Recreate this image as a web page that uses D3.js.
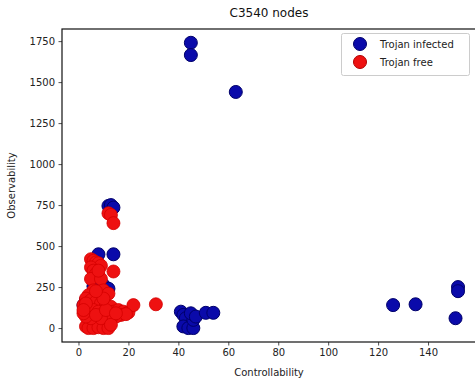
<!DOCTYPE html>
<html><head><meta charset="utf-8">
<script src="https://cdn.jsdelivr.net/npm/d3@7"></script>
<style>body{margin:0;background:#fff}svg{display:block}</style>
</head><body>
<script>
const title = "C3540 nodes";
const xLabel = "Controllability";
const yLabel = "Observability";
const seriesNames = ["Trojan infected", "Trojan free"];
const xTicks = [0, 20, 40, 60, 80, 100, 120, 140];
const yTicks = [0, 250, 500, 750, 1000, 1250, 1500, 1750];

const infectedX = [45,45,63,126,135,152,152,151, 41,42,43,42,44,46,46,45,47,51,54, 12,13,14, 8,14, 6,8,10,12, 3,2,4,5];
const infectedY = [1740,1665,1440,140,145,250,225,60, 100,80,60,10,0,0,50,90,70,93,93, 745,750,735, 450,450, 255,272,262,240, 170,140,160,200];

const freeX = [12,13,14,14, 5,6,7,8,9,5,6,7,8,5,9,8, 6,8,10,12,4,3,5,7,9,11,13,2,3,4,6,8,10,12,14,16,18,20,17,15,13,11,9,7,5,3,4,6,8,10,12,9,5,3,2,7,11,13,22,31,19,15,3,2,10,7];
const freeY = [700,690,640,345, 420,410,400,395,380,370,350,330,320,300,300,350, 230,220,230,210,200,180,170,160,150,140,130,140,120,100,110,100,90,80,100,110,100,95,80,70,60,50,40,30,20,10,0,0,5,0,0,60,60,70,90,80,110,20,140,145,85,90,150,110,180,225];

const W = 475, H = 381;
const m = {left: 62, top: 29, right: 477, bottom: 342};
const svg = d3.select("body").append("svg").attr("width", W).attr("height", H)
  .style("font-family", "DejaVu Sans, sans-serif");

const x = d3.scaleLinear().domain([-6.6, 159.6]).range([m.left, m.right]);
const y = d3.scaleLinear().domain([-85, 1824]).range([m.bottom, m.top]);

const xAxis = svg.append("g").attr("transform", `translate(0,${m.bottom})`)
  .call(d3.axisBottom(x).tickValues(xTicks).tickFormat(d3.format("d")).tickSize(3.5).tickPadding(3.5));
const yAxis = svg.append("g").attr("transform", `translate(${m.left},0)`)
  .call(d3.axisLeft(y).tickValues(yTicks).tickFormat(d3.format("d")).tickSize(3.5).tickPadding(3.5));
[xAxis, yAxis].forEach(g => {
  g.selectAll("text").attr("font-size", 10).attr("fill", "#222").style("font-family", "DejaVu Sans, sans-serif");
  g.select(".domain").remove();
  g.selectAll("line").attr("stroke", "#222").attr("stroke-width", 0.8);
});
// spines
svg.append("rect").attr("x", m.left).attr("y", m.top)
  .attr("width", m.right - m.left).attr("height", m.bottom - m.top)
  .attr("fill", "none").attr("stroke", "#111").attr("stroke-width", 1.2);

const plot = svg.append("g");
const infected = infectedX.map((v, i) => [v, infectedY[i]]);
const free = freeX.map((v, i) => [v, freeY[i]]);
plot.selectAll("circle.inf").data(infected).join("circle").attr("class", "inf")
  .attr("cx", d => x(d[0])).attr("cy", d => y(d[1])).attr("r", 6.5)
  .attr("fill", "#0a0aaa").attr("stroke", "#00006a").attr("stroke-width", 1);
plot.selectAll("circle.free").data(free).join("circle").attr("class", "free")
  .attr("cx", d => x(d[0])).attr("cy", d => y(d[1])).attr("r", 6.5)
  .attr("fill", "#ee1111").attr("stroke", "#d40000").attr("stroke-width", 0.8);

// title & labels
svg.append("text").attr("x", 269).attr("y", 17).attr("text-anchor", "middle")
  .attr("font-size", 12).attr("fill", "#111").text(title);
svg.append("text").attr("x", 269).attr("y", 376).attr("text-anchor", "middle")
  .attr("font-size", 10).attr("fill", "#222").text(xLabel);
svg.append("text").attr("transform", `translate(15,${(m.top + m.bottom) / 2}) rotate(-90)`)
  .attr("text-anchor", "middle").attr("font-size", 10).attr("fill", "#222").text(yLabel);

// legend
const lg = svg.append("g");
lg.append("rect").attr("x", 341.5).attr("y", 33.5).attr("width", 128).attr("height", 42)
  .attr("rx", 2).attr("fill", "#fff").attr("fill-opacity", 0.85).attr("stroke", "#ccc");
const legendColors = [["#0a0aaa", "#00006a"], ["#ee1111", "#b00000"]];
seriesNames.forEach((name, i) => {
  const cy = 44 + i * 18;
  lg.append("circle").attr("cx", 360).attr("cy", cy).attr("r", 6.5)
    .attr("fill", legendColors[i][0]).attr("stroke", legendColors[i][1]);
  lg.append("text").attr("x", 380).attr("y", cy + 3.5).attr("font-size", 10)
    .attr("fill", "#222").text(name);
});
</script>
</body></html>
